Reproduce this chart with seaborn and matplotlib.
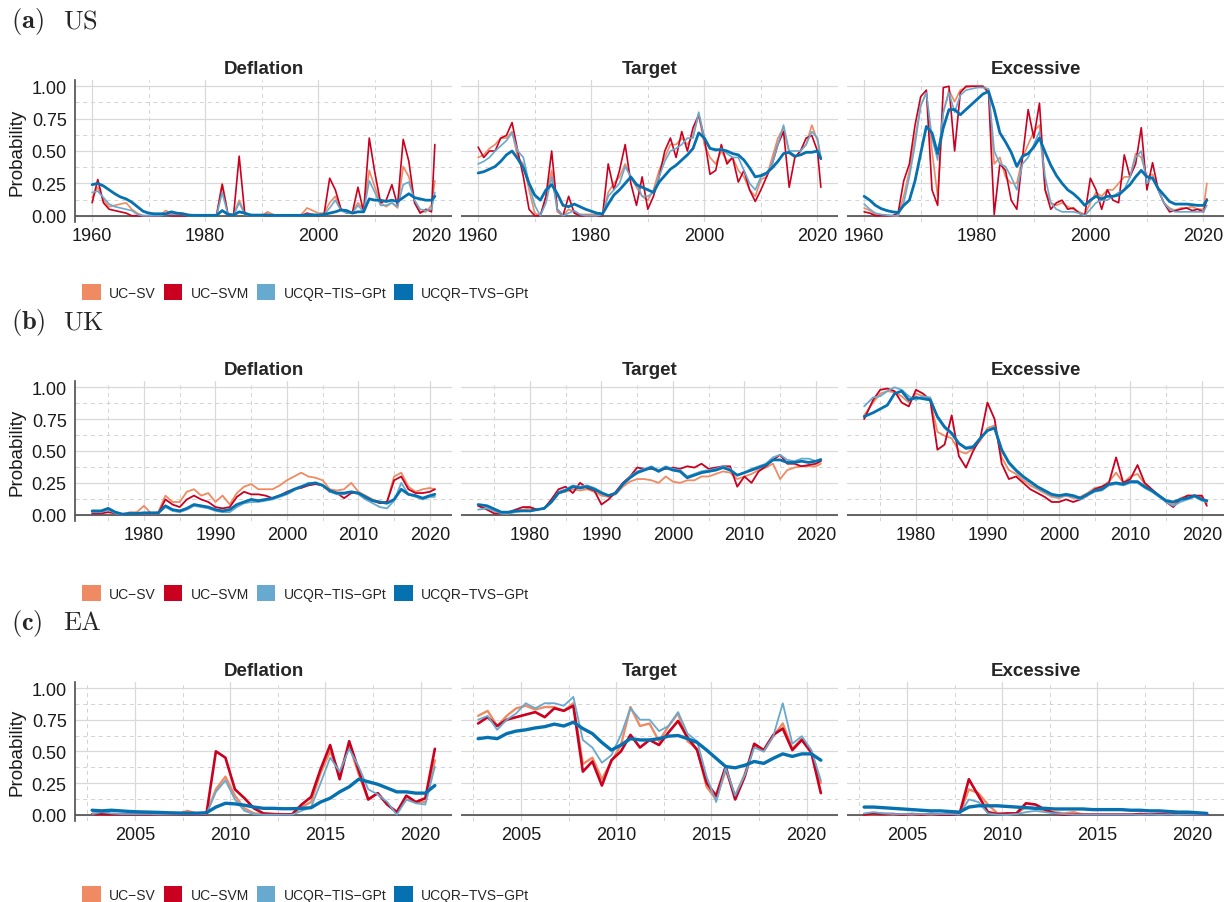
import matplotlib
matplotlib.use('Agg')
import matplotlib.pyplot as plt
from matplotlib.patches import Patch
from matplotlib.ticker import StrMethodFormatter
import seaborn as sns

# ---------------- data ----------------
MODELS = ['UC\u2212SV', 'UC\u2212SVM', 'UCQR\u2212TIS\u2212GPt', 'UCQR\u2212TVS\u2212GPt']
COLORS = ['#EF8A62', '#CA0020', '#67A9CF', '#0571B0']
PANELS = ['Deflation', 'Target', 'Excessive']
REGIONS = [('(a)', 'US'), ('(b)', 'UK'), ('(c)', 'EA')]

# ---- US (1960 .. 2020.6) ----
US_T = list(range(1960, 2021)) + [2020.6]

US_DEF_SV = [0.14, 0.22, 0.12, 0.07, 0.08, 0.09, 0.10, 0.05, 0.02, 0.00,
             0.00, 0.00, 0.00, 0.04, 0.02, 0.02, 0.02, 0.01, 0.00, 0.00,
             0.00, 0.00, 0.01, 0.25, 0.02, 0.01, 0.12, 0.02, 0.01, 0.00,
             0.00, 0.03, 0.01, 0.00, 0.00, 0.00, 0.00, 0.01, 0.06, 0.04,
             0.02, 0.02, 0.10, 0.15, 0.05, 0.03, 0.03, 0.10, 0.05, 0.35,
             0.22, 0.10, 0.07, 0.10, 0.06, 0.38, 0.30, 0.12, 0.03, 0.03,
             0.08, 0.27]
US_DEF_SVM = [0.10, 0.28, 0.10, 0.05, 0.04, 0.03, 0.02, 0.00, 0.00, 0.00,
              0.00, 0.00, 0.00, 0.01, 0.00, 0.00, 0.00, 0.00, 0.00, 0.00,
              0.00, 0.00, 0.00, 0.24, 0.01, 0.00, 0.46, 0.01, 0.00, 0.00,
              0.00, 0.01, 0.00, 0.00, 0.00, 0.00, 0.00, 0.00, 0.02, 0.01,
              0.00, 0.01, 0.29, 0.20, 0.05, 0.02, 0.02, 0.22, 0.03, 0.60,
              0.33, 0.10, 0.12, 0.24, 0.08, 0.59, 0.42, 0.10, 0.02, 0.05,
              0.03, 0.55]
US_DEF_TIS = [0.18, 0.19, 0.14, 0.09, 0.07, 0.06, 0.05, 0.04, 0.01, 0.00,
              0.00, 0.00, 0.00, 0.01, 0.01, 0.01, 0.01, 0.00, 0.00, 0.00,
              0.00, 0.00, 0.00, 0.18, 0.01, 0.00, 0.10, 0.01, 0.00, 0.00,
              0.00, 0.01, 0.00, 0.00, 0.00, 0.00, 0.00, 0.00, 0.01, 0.01,
              0.01, 0.01, 0.06, 0.12, 0.04, 0.02, 0.02, 0.08, 0.03, 0.27,
              0.18, 0.08, 0.08, 0.10, 0.07, 0.24, 0.26, 0.12, 0.05, 0.04,
              0.05, 0.18]
US_DEF_TVS = [0.24, 0.25, 0.23, 0.20, 0.17, 0.145, 0.13, 0.105, 0.07, 0.035,
              0.02, 0.015, 0.015, 0.015, 0.03, 0.02, 0.015, 0.005, 0.003, 0.003,
              0.003, 0.003, 0.003, 0.04, 0.01, 0.005, 0.03, 0.02, 0.005, 0.005,
              0.005, 0.005, 0.003, 0.003, 0.003, 0.003, 0.003, 0.003, 0.005, 0.005,
              0.005, 0.01, 0.02, 0.03, 0.045, 0.04, 0.02, 0.03, 0.03, 0.13,
              0.12, 0.12, 0.11, 0.12, 0.11, 0.14, 0.17, 0.14, 0.13, 0.12,
              0.12, 0.15]

US_TGT_SV = [0.45, 0.47, 0.52, 0.55, 0.60, 0.60, 0.65, 0.45, 0.40, 0.20,
             0.02, 0.00, 0.15, 0.35, 0.03, 0.00, 0.05, 0.03, 0.01, 0.01,
             0.01, 0.01, 0.01, 0.18, 0.25, 0.30, 0.40, 0.30, 0.22, 0.15,
             0.12, 0.20, 0.35, 0.45, 0.55, 0.55, 0.60, 0.55, 0.62, 0.78,
             0.55, 0.45, 0.40, 0.50, 0.42, 0.45, 0.35, 0.30, 0.20, 0.15,
             0.28, 0.30, 0.45, 0.60, 0.68, 0.48, 0.45, 0.50, 0.55, 0.70,
             0.58, 0.45]
US_TGT_SVM = [0.53, 0.45, 0.50, 0.50, 0.60, 0.62, 0.72, 0.50, 0.30, 0.05,
              0.00, 0.00, 0.15, 0.50, 0.05, 0.00, 0.15, 0.02, 0.00, 0.00,
              0.00, 0.00, 0.00, 0.40, 0.20, 0.35, 0.55, 0.25, 0.08, 0.30,
              0.05, 0.15, 0.30, 0.50, 0.60, 0.45, 0.65, 0.50, 0.68, 0.78,
              0.60, 0.32, 0.35, 0.55, 0.40, 0.45, 0.26, 0.35, 0.20, 0.11,
              0.20, 0.30, 0.40, 0.55, 0.65, 0.22, 0.45, 0.50, 0.60, 0.62,
              0.50, 0.22]
US_TGT_TIS = [0.40, 0.42, 0.45, 0.50, 0.54, 0.58, 0.64, 0.50, 0.45, 0.25,
              0.08, 0.00, 0.10, 0.30, 0.05, 0.00, 0.02, 0.04, 0.01, 0.00,
              0.00, 0.00, 0.01, 0.15, 0.20, 0.25, 0.38, 0.30, 0.25, 0.15,
              0.15, 0.18, 0.30, 0.42, 0.50, 0.52, 0.55, 0.60, 0.60, 0.80,
              0.60, 0.52, 0.50, 0.52, 0.48, 0.45, 0.45, 0.35, 0.25, 0.20,
              0.30, 0.32, 0.40, 0.55, 0.70, 0.50, 0.50, 0.50, 0.55, 0.65,
              0.60, 0.45]
US_TGT_TVS = [0.33, 0.34, 0.36, 0.38, 0.42, 0.47, 0.50, 0.44, 0.37, 0.25,
              0.16, 0.12, 0.20, 0.24, 0.17, 0.08, 0.07, 0.09, 0.07, 0.05,
              0.035, 0.02, 0.015, 0.09, 0.16, 0.20, 0.25, 0.30, 0.24, 0.22,
              0.20, 0.18, 0.26, 0.31, 0.36, 0.39, 0.43, 0.47, 0.52, 0.64,
              0.60, 0.52, 0.51, 0.51, 0.50, 0.48, 0.47, 0.43, 0.37, 0.30,
              0.31, 0.33, 0.37, 0.42, 0.48, 0.49, 0.46, 0.47, 0.49, 0.49,
              0.50, 0.44]

US_EXC_SV = [0.06, 0.04, 0.01, 0.00, 0.00, 0.00, 0.00, 0.15, 0.35, 0.60,
             0.85, 0.95, 0.50, 0.15, 0.80, 0.97, 0.88, 0.97, 0.99, 1.00,
             1.00, 1.00, 0.97, 0.40, 0.45, 0.30, 0.25, 0.25, 0.45, 0.55,
             0.65, 0.70, 0.20, 0.10, 0.08, 0.10, 0.07, 0.05, 0.03, 0.01,
             0.10, 0.18, 0.15, 0.20, 0.20, 0.25, 0.30, 0.30, 0.48, 0.45,
             0.30, 0.32, 0.20, 0.10, 0.06, 0.04, 0.06, 0.06, 0.07, 0.05,
             0.05, 0.25]
US_EXC_SVM = [0.03, 0.02, 0.00, 0.00, 0.00, 0.00, 0.02, 0.27, 0.40, 0.70,
              0.92, 0.97, 0.20, 0.08, 0.99, 1.00, 0.50, 0.95, 1.00, 1.00,
              1.00, 1.00, 0.95, 0.01, 0.40, 0.35, 0.12, 0.05, 0.45, 0.82,
              0.60, 0.87, 0.20, 0.05, 0.10, 0.12, 0.05, 0.06, 0.02, 0.00,
              0.29, 0.20, 0.05, 0.20, 0.12, 0.10, 0.47, 0.30, 0.40, 0.68,
              0.20, 0.41, 0.20, 0.10, 0.03, 0.04, 0.05, 0.06, 0.04, 0.05,
              0.03, 0.13]
US_EXC_TIS = [0.09, 0.05, 0.02, 0.01, 0.005, 0.00, 0.00, 0.10, 0.30, 0.55,
              0.85, 0.95, 0.60, 0.43, 0.80, 0.95, 0.80, 0.93, 0.97, 0.98,
              0.99, 0.99, 0.98, 0.50, 0.40, 0.38, 0.30, 0.20, 0.40, 0.45,
              0.55, 0.65, 0.30, 0.10, 0.05, 0.03, 0.03, 0.03, 0.02, 0.00,
              0.05, 0.10, 0.12, 0.12, 0.15, 0.18, 0.20, 0.30, 0.45, 0.50,
              0.25, 0.30, 0.20, 0.10, 0.05, 0.03, 0.03, 0.03, 0.03, 0.03,
              0.03, 0.08]
US_EXC_TVS = [0.15, 0.12, 0.08, 0.055, 0.04, 0.03, 0.025, 0.08, 0.12, 0.27,
              0.48, 0.69, 0.64, 0.48, 0.68, 0.82, 0.82, 0.78, 0.82, 0.86,
              0.90, 0.94, 0.96, 0.82, 0.64, 0.57, 0.49, 0.38, 0.46, 0.48,
              0.53, 0.60, 0.49, 0.39, 0.31, 0.25, 0.20, 0.17, 0.13, 0.08,
              0.12, 0.15, 0.13, 0.15, 0.15, 0.16, 0.20, 0.24, 0.30, 0.35,
              0.30, 0.29, 0.21, 0.16, 0.11, 0.09, 0.09, 0.09, 0.085, 0.08,
              0.08, 0.12]

# ---- UK (1972.75 .. 2020.7) ----
UK_T = [1972.75] + list(range(1974, 2021)) + [2020.7]

UK_DEF_SV = [0.02, 0.02, 0.04, 0.02, 0.00, 0.02, 0.02,
             0.07, 0.01, 0.02, 0.15, 0.10, 0.10, 0.18, 0.20, 0.15, 0.17,
             0.10, 0.15, 0.08, 0.17, 0.22, 0.24, 0.20, 0.20, 0.20, 0.23,
             0.27, 0.30, 0.33, 0.30, 0.29, 0.27, 0.20, 0.19, 0.20, 0.25,
             0.18, 0.15, 0.12, 0.10, 0.10, 0.30, 0.33, 0.22, 0.18, 0.20,
             0.21, 0.20]
UK_DEF_SVM = [0.01, 0.01, 0.02, 0.01, 0.00, 0.01, 0.01,
              0.01, 0.01, 0.01, 0.12, 0.08, 0.06, 0.12, 0.15, 0.12, 0.10,
              0.06, 0.05, 0.06, 0.14, 0.18, 0.16, 0.16, 0.15, 0.13, 0.15,
              0.18, 0.20, 0.21, 0.23, 0.24, 0.23, 0.18, 0.17, 0.13, 0.17,
              0.17, 0.13, 0.11, 0.09, 0.10, 0.27, 0.30, 0.20, 0.17, 0.17,
              0.18, 0.20]
UK_DEF_TIS = [0.02, 0.02, 0.04, 0.01, 0.00, 0.01, 0.01,
              0.01, 0.01, 0.01, 0.06, 0.03, 0.02, 0.04, 0.07, 0.06, 0.05,
              0.03, 0.02, 0.02, 0.06, 0.09, 0.10, 0.10, 0.11, 0.12, 0.14,
              0.16, 0.19, 0.22, 0.25, 0.25, 0.23, 0.18, 0.16, 0.16, 0.18,
              0.16, 0.12, 0.09, 0.06, 0.05, 0.11, 0.25, 0.16, 0.14, 0.12,
              0.14, 0.14]
UK_DEF_TVS = [0.03, 0.03, 0.05, 0.02, 0.005, 0.01, 0.01,
              0.015, 0.015, 0.015, 0.07, 0.04, 0.03, 0.05, 0.08, 0.07, 0.06,
              0.04, 0.03, 0.04, 0.08, 0.10, 0.12, 0.11, 0.12, 0.13, 0.15,
              0.17, 0.20, 0.22, 0.24, 0.25, 0.23, 0.19, 0.17, 0.17, 0.18,
              0.17, 0.14, 0.11, 0.10, 0.09, 0.12, 0.20, 0.16, 0.15, 0.13,
              0.15, 0.16]

UK_TGT_SV = [0.07, 0.05, 0.03, 0.01, 0.01, 0.03, 0.04,
             0.05, 0.04, 0.05, 0.10, 0.17, 0.18, 0.20, 0.19, 0.20, 0.18,
             0.15, 0.14, 0.16, 0.22, 0.26, 0.28, 0.28, 0.27, 0.25, 0.30,
             0.26, 0.25, 0.27, 0.27, 0.30, 0.30, 0.32, 0.34, 0.33, 0.28,
             0.30, 0.32, 0.35, 0.37, 0.40, 0.28, 0.35, 0.37, 0.38, 0.38,
             0.38, 0.40]
UK_TGT_SVM = [0.07, 0.04, 0.01, 0.01, 0.02, 0.04, 0.06,
              0.06, 0.04, 0.05, 0.12, 0.20, 0.22, 0.17, 0.25, 0.21, 0.19,
              0.08, 0.12, 0.18, 0.25, 0.30, 0.37, 0.36, 0.36, 0.35, 0.36,
              0.37, 0.36, 0.38, 0.37, 0.40, 0.36, 0.37, 0.38, 0.38, 0.22,
              0.30, 0.25, 0.34, 0.38, 0.43, 0.47, 0.40, 0.40, 0.38, 0.39,
              0.40, 0.42]
UK_TGT_TIS = [0.04, 0.05, 0.03, 0.01, 0.01, 0.02, 0.03,
              0.03, 0.04, 0.05, 0.10, 0.18, 0.20, 0.23, 0.22, 0.23, 0.21,
              0.18, 0.15, 0.17, 0.24, 0.30, 0.34, 0.36, 0.38, 0.35, 0.38,
              0.36, 0.35, 0.30, 0.32, 0.34, 0.35, 0.36, 0.38, 0.36, 0.31,
              0.33, 0.36, 0.38, 0.40, 0.45, 0.47, 0.43, 0.42, 0.44, 0.44,
              0.42, 0.44]
UK_TGT_TVS = [0.08, 0.07, 0.045, 0.02, 0.02, 0.03, 0.03,
              0.03, 0.04, 0.05, 0.10, 0.17, 0.19, 0.22, 0.21, 0.22, 0.20,
              0.17, 0.15, 0.17, 0.24, 0.29, 0.33, 0.35, 0.37, 0.34, 0.37,
              0.35, 0.34, 0.29, 0.31, 0.33, 0.34, 0.35, 0.37, 0.35, 0.31,
              0.33, 0.35, 0.37, 0.39, 0.43, 0.43, 0.41, 0.41, 0.42, 0.41,
              0.42, 0.43]

UK_EXC_SV = [0.78, 0.88, 0.95, 0.97, 0.96, 0.93, 0.88,
             0.95, 0.93, 0.90, 0.65, 0.62, 0.60, 0.50, 0.48, 0.52, 0.58,
             0.68, 0.70, 0.45, 0.35, 0.32, 0.27, 0.23, 0.20, 0.17, 0.14,
             0.13, 0.15, 0.13, 0.14, 0.17, 0.21, 0.22, 0.26, 0.33, 0.25,
             0.30, 0.32, 0.24, 0.19, 0.15, 0.11, 0.08, 0.13, 0.15, 0.15,
             0.14, 0.09]
UK_EXC_SVM = [0.75, 0.90, 0.98, 0.99, 0.97, 0.88, 0.85,
              0.98, 0.95, 0.90, 0.51, 0.55, 0.78, 0.46, 0.37, 0.50, 0.60,
              0.88, 0.75, 0.40, 0.28, 0.30, 0.25, 0.20, 0.17, 0.14, 0.10,
              0.10, 0.12, 0.10, 0.12, 0.15, 0.20, 0.22, 0.25, 0.45, 0.25,
              0.28, 0.39, 0.25, 0.20, 0.15, 0.10, 0.06, 0.12, 0.15, 0.15,
              0.15, 0.07]
UK_EXC_TIS = [0.85, 0.92, 0.93, 0.97, 1.00, 0.98, 0.93,
              0.90, 0.93, 0.92, 0.76, 0.68, 0.63, 0.56, 0.53, 0.54, 0.60,
              0.66, 0.69, 0.50, 0.40, 0.34, 0.29, 0.25, 0.21, 0.18, 0.15,
              0.14, 0.15, 0.14, 0.12, 0.15, 0.18, 0.19, 0.23, 0.24, 0.23,
              0.25, 0.25, 0.21, 0.18, 0.14, 0.10, 0.07, 0.10, 0.12, 0.14,
              0.11, 0.10]
UK_EXC_TVS = [0.77, 0.80, 0.83, 0.86, 0.95, 0.97, 0.90,
              0.92, 0.91, 0.90, 0.77, 0.69, 0.64, 0.56, 0.52, 0.53, 0.60,
              0.66, 0.68, 0.51, 0.41, 0.35, 0.30, 0.26, 0.22, 0.19, 0.16,
              0.15, 0.16, 0.15, 0.13, 0.16, 0.19, 0.20, 0.24, 0.25, 0.24,
              0.26, 0.26, 0.22, 0.19, 0.15, 0.11, 0.10, 0.12, 0.13, 0.15,
              0.12, 0.11]

# ---- EA (2002.75 .. 2020.75, half-yearly readings) ----
EA_T = [2002.75 + 0.5 * i for i in range(37)]

EA_DEF_SV = [0.005, 0.01, 0.005, 0.005, 0.005, 0.005, 0.005, 0.003, 0.003, 0.005,
             0.03, 0.01, 0.005, 0.20, 0.30, 0.15, 0.05, 0.01, 0.005, 0.003,
             0.003, 0.003, 0.06, 0.10, 0.33, 0.50, 0.33, 0.55, 0.32, 0.12,
             0.17, 0.08, 0.02, 0.12, 0.10, 0.10, 0.43]
EA_DEF_SVM = [0.005, 0.005, 0.003, 0.003, 0.003, 0.003, 0.003, 0.003, 0.003, 0.003,
              0.005, 0.003, 0.003, 0.50, 0.45, 0.20, 0.13, 0.05, 0.01, 0.005,
              0.003, 0.003, 0.08, 0.14, 0.36, 0.55, 0.28, 0.58, 0.35, 0.12,
              0.17, 0.08, 0.02, 0.15, 0.10, 0.13, 0.52]
EA_DEF_TIS = [0.005, 0.02, 0.01, 0.005, 0.005, 0.005, 0.005, 0.003, 0.003, 0.003,
              0.005, 0.003, 0.005, 0.18, 0.27, 0.12, 0.03, 0.005, 0.00, 0.00,
              0.00, 0.00, 0.03, 0.06, 0.25, 0.45, 0.34, 0.52, 0.38, 0.20,
              0.16, 0.10, 0.00, 0.12, 0.09, 0.08, 0.38]
EA_DEF_TVS = [0.035, 0.03, 0.035, 0.03, 0.025, 0.022, 0.02, 0.018, 0.015, 0.013,
              0.012, 0.012, 0.015, 0.06, 0.09, 0.085, 0.075, 0.06, 0.05, 0.05,
              0.047, 0.047, 0.05, 0.055, 0.10, 0.13, 0.18, 0.22, 0.28, 0.26,
              0.24, 0.21, 0.18, 0.18, 0.17, 0.17, 0.23]

EA_TGT_SV = [0.78, 0.82, 0.70, 0.78, 0.84, 0.86, 0.83, 0.85, 0.85, 0.82,
             0.88, 0.40, 0.45, 0.28, 0.42, 0.55, 0.85, 0.70, 0.72, 0.58,
             0.70, 0.80, 0.58, 0.52, 0.22, 0.12, 0.35, 0.15, 0.32, 0.55,
             0.50, 0.62, 0.72, 0.52, 0.60, 0.50, 0.25]
EA_TGT_SVM = [0.72, 0.77, 0.70, 0.75, 0.77, 0.79, 0.81, 0.77, 0.84, 0.82,
              0.86, 0.34, 0.42, 0.23, 0.43, 0.50, 0.63, 0.53, 0.59, 0.55,
              0.65, 0.74, 0.61, 0.51, 0.25, 0.15, 0.38, 0.12, 0.30, 0.56,
              0.51, 0.63, 0.68, 0.51, 0.59, 0.49, 0.17]
EA_TGT_TIS = [0.75, 0.78, 0.67, 0.75, 0.80, 0.88, 0.84, 0.88, 0.88, 0.86,
              0.93, 0.59, 0.53, 0.41, 0.47, 0.63, 0.84, 0.75, 0.75, 0.66,
              0.70, 0.81, 0.64, 0.58, 0.30, 0.10, 0.37, 0.15, 0.31, 0.53,
              0.50, 0.62, 0.88, 0.56, 0.62, 0.51, 0.27]
EA_TGT_TVS = [0.60, 0.61, 0.60, 0.64, 0.66, 0.67, 0.685, 0.695, 0.715, 0.70,
              0.73, 0.68, 0.64, 0.57, 0.51, 0.55, 0.60, 0.59, 0.59, 0.60,
              0.62, 0.625, 0.60, 0.57, 0.51, 0.445, 0.38, 0.37, 0.39, 0.42,
              0.405, 0.445, 0.48, 0.46, 0.48, 0.48, 0.43]

EA_EXC_SV = [0.00, 0.005, 0.005, 0.00, 0.00, 0.00, 0.00, 0.00, 0.00, 0.00,
             0.00, 0.20, 0.17, 0.08, 0.01, 0.00, 0.01, 0.06, 0.05, 0.03,
             0.02, 0.01, 0.02, 0.00, 0.00, 0.00, 0.00, 0.00, 0.00, 0.00,
             0.00, 0.00, 0.00, 0.00, 0.00, 0.00, 0.00]
EA_EXC_SVM = [0.00, 0.01, 0.005, 0.005, 0.00, 0.005, 0.00, 0.005, 0.00, 0.00,
              0.00, 0.28, 0.15, 0.02, 0.005, 0.01, 0.01, 0.09, 0.08, 0.04,
              0.01, 0.00, 0.00, 0.00, 0.00, 0.00, 0.00, 0.00, 0.00, 0.005,
              0.00, 0.005, 0.00, 0.005, 0.00, 0.00, 0.00]
EA_EXC_TIS = [0.01, 0.02, 0.01, 0.005, 0.005, 0.005, 0.005, 0.005, 0.005, 0.005,
              0.00, 0.12, 0.10, 0.01, 0.00, 0.00, 0.005, 0.02, 0.03, 0.02,
              0.01, 0.005, 0.00, 0.00, 0.00, 0.00, 0.00, 0.00, 0.00, 0.00,
              0.00, 0.00, 0.00, 0.00, 0.00, 0.00, 0.00]
EA_EXC_TVS = [0.06, 0.06, 0.055, 0.05, 0.045, 0.04, 0.035, 0.03, 0.03, 0.025,
              0.02, 0.06, 0.07, 0.07, 0.07, 0.065, 0.06, 0.055, 0.05, 0.05,
              0.045, 0.045, 0.045, 0.045, 0.04, 0.04, 0.04, 0.04, 0.035, 0.035,
              0.03, 0.03, 0.025, 0.02, 0.02, 0.015, 0.01]

ROWS = [
    dict(t=US_T,
         panels=[[US_DEF_SV, US_DEF_SVM, US_DEF_TIS, US_DEF_TVS],
                 [US_TGT_SV, US_TGT_SVM, US_TGT_TIS, US_TGT_TVS],
                 [US_EXC_SV, US_EXC_SVM, US_EXC_TIS, US_EXC_TVS]],
         major=[1960, 1980, 2000, 2020], minor=[1970, 1990, 2010],
         widths=[1.2, 1.2, 1.2, 2.0]),
    dict(t=UK_T,
         panels=[[UK_DEF_SV, UK_DEF_SVM, UK_DEF_TIS, UK_DEF_TVS],
                 [UK_TGT_SV, UK_TGT_SVM, UK_TGT_TIS, UK_TGT_TVS],
                 [UK_EXC_SV, UK_EXC_SVM, UK_EXC_TIS, UK_EXC_TVS]],
         major=[1980, 1990, 2000, 2010, 2020], minor=[1975, 1985, 1995, 2005, 2015],
         widths=[1.3, 1.3, 1.3, 2.0]),
    dict(t=EA_T,
         panels=[[EA_DEF_SV, EA_DEF_SVM, EA_DEF_TIS, EA_DEF_TVS],
                 [EA_TGT_SV, EA_TGT_SVM, EA_TGT_TIS, EA_TGT_TVS],
                 [EA_EXC_SV, EA_EXC_SVM, EA_EXC_TIS, EA_EXC_TVS]],
         major=[2005, 2010, 2015, 2020], minor=[2002.5, 2007.5, 2012.5, 2017.5],
         widths=[1.7, 1.9, 1.3, 2.4]),
]

# ---------------- style ----------------
sns.set_style('white')
plt.rcParams['font.family'] = ['Liberation Sans', 'DejaVu Sans']
plt.rcParams['mathtext.fontset'] = 'cm'

W, H = 1230, 903
fig = plt.figure(figsize=(W / 100, H / 100), dpi=100)

COL_LEFT = [75, 461, 847]
COL_W = 377
ROW_TOP = [80.8, 381.9, 682.7]
ROW_BOT = [223.2, 522.1, 822.0]
TITLE_BASE = [28.3, 329.4, 630.2]
LEGEND_Y = [293, 594, 895]
AX_DARK = '#4d4d4d'

for r, row in enumerate(ROWS):
    t = row['t']
    span = t[-1] - t[0]
    xlim = (t[0] - 0.05 * span, t[-1] + 0.05 * span)
    for c in range(3):
        ax = fig.add_axes([COL_LEFT[c] / W, 1 - ROW_BOT[r] / H,
                           COL_W / W, (ROW_BOT[r] - ROW_TOP[r]) / H])
        for m in range(4):
            sns.lineplot(x=t, y=row['panels'][c][m], ax=ax, color=COLORS[m],
                         linewidth=row['widths'][m], legend=False, zorder=3 + m)
        ax.set_xlim(*xlim)
        ax.set_ylim(-0.05, 1.05)
        ax.set_xlabel('')
        ax.set_ylabel('')
        ax.set_yticks([0, 0.25, 0.5, 0.75, 1.0])
        ax.set_yticks([0.125, 0.375, 0.625, 0.875], minor=True)
        ax.yaxis.set_major_formatter(StrMethodFormatter('{x:.2f}'))
        ax.set_xticks(row['major'])
        ax.set_xticklabels([str(v) for v in row['major']])
        ax.set_xticks(row['minor'], minor=True)
        ax.grid(True, which='major', color='#d9d9d9', linewidth=0.9)
        ax.grid(True, which='minor', color='#d2d2d2', linewidth=0.7,
                linestyle=(0, (4, 4)))
        ax.set_axisbelow(True)
        ax.axhline(0, color=AX_DARK, linewidth=1.2, zorder=2.5)
        for s in ax.spines.values():
            s.set_visible(False)
        ax.tick_params(which='minor', length=0)
        ax.tick_params(axis='x', which='major', length=2.5, width=0.8,
                       color='#333333', labelsize=13, pad=1, labelcolor='#1a1a1a')
        if c == 0:
            ax.spines['left'].set_visible(True)
            ax.spines['left'].set_color(AX_DARK)
            ax.spines['left'].set_linewidth(1.2)
            ax.tick_params(axis='y', which='major', length=2.5, width=0.8,
                           color='#333333', labelsize=13, pad=3.5,
                           labelcolor='#1a1a1a')
            ax.set_ylabel('Probability', fontsize=13.5, color='#1a1a1a')
            ax.yaxis.set_label_coords(-0.1326, 0.5)
        else:
            ax.tick_params(axis='y', which='major', length=0, labelleft=False)
        ax.set_title(PANELS[c], fontsize=13.5, fontweight='bold', pad=4.9)

    tag, name = REGIONS[r]
    fig.text(11 / W, 1 - TITLE_BASE[r] / H, r'$\mathbf{' + tag + '}$',
             fontsize=19, va='baseline', ha='left')
    fig.text(63 / W, 1 - TITLE_BASE[r] / H, r'$\mathrm{' + name + '}$',
             fontsize=19, va='baseline', ha='left')

    handles = [Patch(facecolor=col, edgecolor='none') for col in COLORS]
    fig.legend(handles, MODELS, loc='center left',
               bbox_to_anchor=(82 / W, 1 - LEGEND_Y[r] / H), ncol=4,
               frameon=False, fontsize=10, handlelength=1.35, handleheight=1.3,
               handletextpad=0.58, columnspacing=0.58, borderpad=0,
               borderaxespad=0)

fig.savefig('out.png', dpi=100)
